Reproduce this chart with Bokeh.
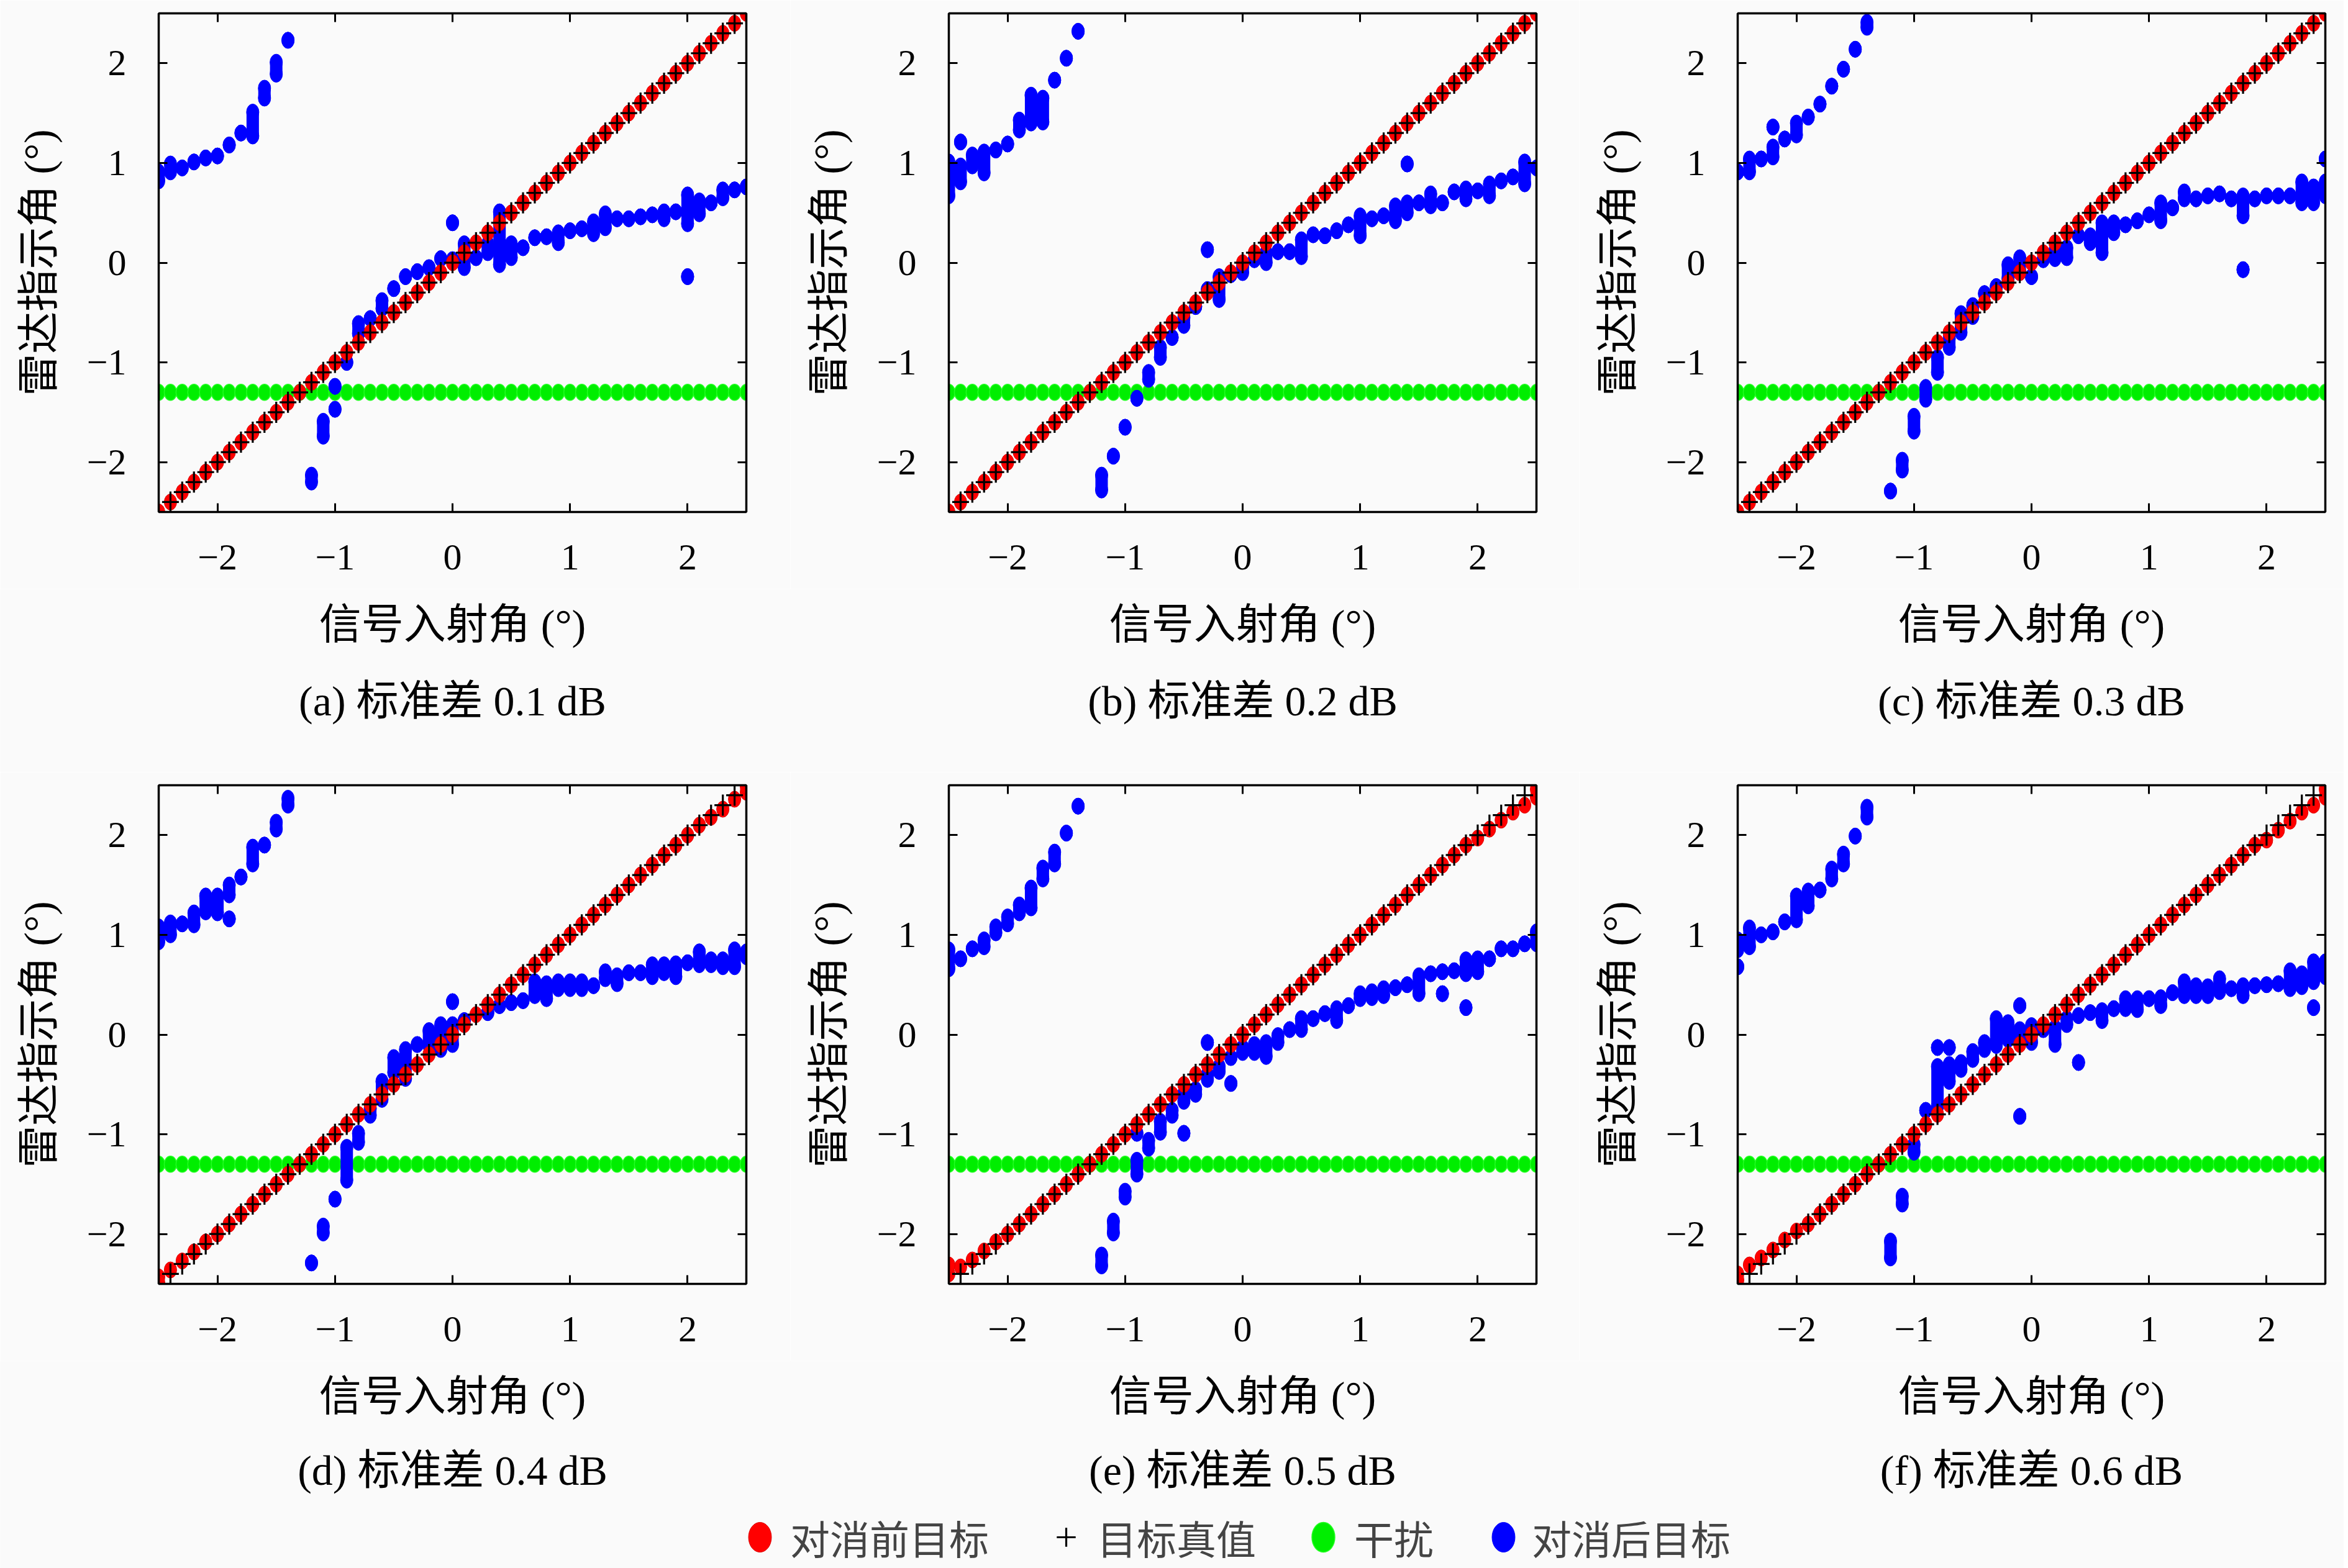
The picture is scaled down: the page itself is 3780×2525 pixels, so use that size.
import math
from bokeh.plotting import figure
from bokeh.layouts import row, column
from bokeh.models import (ColumnDataSource, FixedTicker, LinearAxis, Range1d,
                          Label, Legend, LegendItem)
from bokeh.embed import file_html
from bokeh.resources import INLINE

# ---------------- data ----------------
angles = [-2.5, -2.4, -2.3, -2.2, -2.1, -2.0, -1.9, -1.8, -1.7, -1.6, -1.5, -1.4, -1.3,
          -1.2, -1.1, -1.0, -0.9, -0.8, -0.7, -0.6, -0.5, -0.4, -0.3, -0.2, -0.1, 0.0,
          0.1, 0.2, 0.3, 0.4, 0.5, 0.6, 0.7, 0.8, 0.9, 1.0, 1.1, 1.2, 1.3, 1.4, 1.5,
          1.6, 1.7, 1.8, 1.9, 2.0, 2.1, 2.2, 2.3, 2.4, 2.5]
true_angle = [-2.5, -2.4, -2.3, -2.2, -2.1, -2.0, -1.9, -1.8, -1.7, -1.6, -1.5, -1.4, -1.3,
              -1.2, -1.1, -1.0, -0.9, -0.8, -0.7, -0.6, -0.5, -0.4, -0.3, -0.2, -0.1, 0.0,
              0.1, 0.2, 0.3, 0.4, 0.5, 0.6, 0.7, 0.8, 0.9, 1.0, 1.1, 1.2, 1.3, 1.4, 1.5,
              1.6, 1.7, 1.8, 1.9, 2.0, 2.1, 2.2, 2.3, 2.4, 2.5]
jammer_angle = [-1.3] * 51

red_abc = [-2.5, -2.4, -2.3, -2.2, -2.1, -2.0, -1.9, -1.8, -1.7, -1.6, -1.5, -1.4, -1.3,
           -1.2, -1.1, -1.0, -0.9, -0.8, -0.7, -0.6, -0.5, -0.4, -0.3, -0.2, -0.1, 0.0,
           0.1, 0.2, 0.3, 0.4, 0.5, 0.6, 0.7, 0.8, 0.9, 1.0, 1.1, 1.2, 1.3, 1.4, 1.5,
           1.6, 1.7, 1.8, 1.9, 2.0, 2.1, 2.2, 2.3, 2.4, 2.5]
red_d = [-2.43, -2.36, -2.27, -2.18, -2.08, -2.0, -1.9, -1.8, -1.7, -1.6, -1.5, -1.4, -1.3,
         -1.2, -1.1, -1.0, -0.9, -0.8, -0.7, -0.6, -0.5, -0.4, -0.3, -0.2, -0.1, 0.0,
         0.1, 0.2, 0.3, 0.4, 0.5, 0.6, 0.7, 0.8, 0.9, 1.0, 1.1, 1.2, 1.3, 1.4, 1.5,
         1.6, 1.7, 1.8, 1.9, 2.0, 2.1, 2.18, 2.26, 2.36, 2.43]
red_e = [-2.40, -2.33, -2.26, -2.17, -2.08, -2.0, -1.9, -1.8, -1.7, -1.6, -1.5, -1.4, -1.3,
         -1.2, -1.1, -1.0, -0.9, -0.8, -0.7, -0.6, -0.5, -0.4, -0.3, -0.2, -0.1, 0.0,
         0.1, 0.2, 0.3, 0.4, 0.5, 0.6, 0.7, 0.8, 0.9, 1.0, 1.1, 1.2, 1.3, 1.4, 1.5,
         1.6, 1.7, 1.8, 1.9, 1.97, 2.06, 2.15, 2.23, 2.30, 2.38]
red_f = [-2.40, -2.31, -2.24, -2.16, -2.06, -1.97, -1.9, -1.8, -1.7, -1.6, -1.5, -1.4, -1.3,
         -1.2, -1.1, -1.0, -0.9, -0.8, -0.7, -0.6, -0.5, -0.4, -0.3, -0.2, -0.1, 0.0,
         0.1, 0.2, 0.3, 0.4, 0.5, 0.6, 0.7, 0.8, 0.9, 1.0, 1.1, 1.2, 1.3, 1.4, 1.5,
         1.6, 1.7, 1.8, 1.9, 1.95, 2.05, 2.14, 2.23, 2.30, 2.38]
# extra trials of the pre-cancellation target (angle, value)
red_extra_d = [(-2.5, -2.49), (2.5, 2.49)]
red_extra_e = [(-2.5, -2.31), (2.5, 2.46)]
red_extra_f = [(-2.5, -2.46), (2.5, 2.46)]

# after-cancellation target: (angle, lowest trial, highest trial)
blue_a = [(-2.5, 0.82, 0.91), (-2.4, 0.91, 0.99), (-2.3, 0.95, 0.95), (-2.2, 1.01, 1.01),
          (-2.1, 1.05, 1.05), (-2.0, 1.07, 1.07), (-1.9, 1.18, 1.18), (-1.8, 1.30, 1.30),
          (-1.7, 1.27, 1.51), (-1.6, 1.65, 1.75), (-1.5, 1.89, 2.01), (-1.4, 2.23, 2.23),
          (-1.2, -2.20, -2.13), (-1.1, -1.74, -1.59), (-1.0, -1.47, -1.47), (-1.0, -1.24, -1.24),
          (-0.9, -1.00, -1.00), (-0.8, -0.71, -0.61), (-0.7, -0.56, -0.56), (-0.6, -0.46, -0.38),
          (-0.5, -0.26, -0.26), (-0.4, -0.14, -0.14), (-0.3, -0.09, -0.09), (-0.2, -0.05, -0.05),
          (-0.1, 0.04, 0.04), (0.0, 0.40, 0.40), (0.0, 0.03, 0.03), (0.1, -0.05, 0.19),
          (0.2, 0.05, 0.05), (0.3, 0.10, 0.19), (0.4, -0.02, 0.51), (0.5, 0.05, 0.19),
          (0.6, 0.15, 0.15), (0.7, 0.25, 0.25), (0.8, 0.26, 0.26), (0.9, 0.20, 0.30),
          (1.0, 0.32, 0.32), (1.1, 0.34, 0.34), (1.2, 0.29, 0.41), (1.3, 0.35, 0.49),
          (1.4, 0.44, 0.44), (1.5, 0.44, 0.44), (1.6, 0.46, 0.46), (1.7, 0.48, 0.48),
          (1.8, 0.44, 0.51), (1.9, 0.51, 0.51), (2.0, 0.39, 0.68), (2.0, -0.14, -0.14),
          (2.1, 0.49, 0.62), (2.2, 0.60, 0.60), (2.3, 0.65, 0.73), (2.4, 0.73, 0.73),
          (2.5, 0.76, 0.76)]
blue_b = [(-2.5, 0.67, 1.01), (-2.4, 1.21, 1.21), (-2.4, 0.81, 0.97), (-2.3, 0.97, 1.08),
          (-2.2, 0.90, 1.11), (-2.1, 1.13, 1.13), (-2.0, 1.19, 1.19), (-1.9, 1.33, 1.43),
          (-1.8, 1.40, 1.68), (-1.7, 1.41, 1.65), (-1.6, 1.83, 1.83), (-1.5, 2.05, 2.05),
          (-1.4, 2.32, 2.32), (-1.2, -2.28, -2.13), (-1.1, -1.94, -1.94), (-1.0, -1.65, -1.65),
          (-0.9, -1.36, -1.36), (-0.8, -1.17, -1.10), (-0.7, -0.95, -0.85), (-0.6, -0.75, -0.75),
          (-0.5, -0.63, -0.55), (-0.4, -0.44, -0.44), (-0.3, 0.13, 0.13), (-0.3, -0.27, -0.27),
          (-0.2, -0.37, -0.14), (-0.1, -0.12, -0.12), (0.0, -0.10, -0.04), (0.1, 0.03, 0.03),
          (0.2, 0.00, 0.10), (0.3, 0.11, 0.11), (0.4, 0.11, 0.11), (0.5, 0.06, 0.23),
          (0.6, 0.28, 0.28), (0.7, 0.27, 0.27), (0.8, 0.32, 0.32), (0.9, 0.38, 0.38),
          (1.0, 0.27, 0.47), (1.1, 0.44, 0.44), (1.2, 0.47, 0.47), (1.3, 0.42, 0.57),
          (1.4, 0.99, 0.99), (1.4, 0.50, 0.60), (1.5, 0.60, 0.60), (1.6, 0.57, 0.69),
          (1.7, 0.60, 0.60), (1.8, 0.71, 0.71), (1.9, 0.64, 0.74), (2.0, 0.72, 0.72),
          (2.1, 0.67, 0.79), (2.2, 0.82, 0.82), (2.3, 0.86, 0.86), (2.4, 0.79, 1.01),
          (2.5, 0.95, 0.95)]
blue_c = [(-2.5, 0.91, 0.91), (-2.4, 0.91, 1.04), (-2.3, 1.04, 1.04), (-2.2, 1.36, 1.36),
          (-2.2, 1.06, 1.16), (-2.1, 1.24, 1.24), (-2.0, 1.28, 1.40), (-1.9, 1.46, 1.46),
          (-1.8, 1.59, 1.59), (-1.7, 1.77, 1.77), (-1.6, 1.94, 1.94), (-1.5, 2.14, 2.14),
          (-1.4, 2.36, 2.41), (-1.2, -2.29, -2.29), (-1.1, -2.08, -1.98), (-1.0, -1.69, -1.54),
          (-0.9, -1.37, -1.25), (-0.8, -1.10, -0.95), (-0.7, -0.85, -0.76), (-0.6, -0.70, -0.51),
          (-0.5, -0.54, -0.43), (-0.4, -0.31, -0.31), (-0.3, -0.24, -0.24), (-0.2, -0.16, -0.02),
          (-0.1, -0.10, 0.05), (0.0, -0.14, -0.14), (0.1, 0.03, 0.03), (0.2, 0.04, 0.12),
          (0.3, 0.05, 0.15), (0.4, 0.27, 0.27), (0.5, 0.20, 0.27), (0.6, 0.10, 0.40),
          (0.7, 0.30, 0.40), (0.8, 0.38, 0.38), (0.9, 0.42, 0.42), (1.0, 0.48, 0.48),
          (1.1, 0.42, 0.60), (1.2, 0.55, 0.55), (1.3, 0.64, 0.71), (1.4, 0.64, 0.64),
          (1.5, 0.67, 0.67), (1.6, 0.69, 0.69), (1.7, 0.64, 0.64), (1.8, 0.47, 0.67),
          (1.8, -0.07, -0.07), (1.9, 0.64, 0.64), (2.0, 0.67, 0.67), (2.1, 0.67, 0.67),
          (2.2, 0.67, 0.67), (2.3, 0.60, 0.81), (2.4, 0.60, 0.76), (2.5, 1.04, 1.04),
          (2.5, 0.67, 0.81)]
blue_d = [(-2.5, 0.93, 1.08), (-2.4, 1.00, 1.12), (-2.3, 1.11, 1.11), (-2.2, 1.10, 1.22),
          (-2.1, 1.23, 1.39), (-2.0, 1.22, 1.39), (-1.9, 1.40, 1.50), (-1.9, 1.16, 1.16),
          (-1.8, 1.58, 1.58), (-1.7, 1.71, 1.88), (-1.6, 1.90, 1.90), (-1.5, 2.06, 2.13),
          (-1.4, 2.30, 2.37), (-1.2, -2.29, -2.29), (-1.1, -1.99, -1.92), (-1.0, -1.65, -1.65),
          (-0.9, -1.46, -1.13), (-0.8, -1.08, -0.99), (-0.7, -0.81, -0.74), (-0.6, -0.65, -0.47),
          (-0.5, -0.38, -0.23), (-0.4, -0.44, -0.15), (-0.3, -0.10, -0.10), (-0.2, -0.11, 0.04),
          (-0.1, -0.15, 0.10), (0.0, 0.33, 0.33), (0.0, -0.10, 0.10), (0.1, 0.14, 0.14),
          (0.3, 0.22, 0.22), (0.4, 0.29, 0.29), (0.5, 0.32, 0.32), (0.6, 0.34, 0.34),
          (0.7, 0.39, 0.53), (0.8, 0.36, 0.51), (0.9, 0.46, 0.53), (1.0, 0.46, 0.53),
          (1.1, 0.46, 0.53), (1.2, 0.49, 0.49), (1.3, 0.56, 0.63), (1.4, 0.51, 0.59),
          (1.5, 0.62, 0.62), (1.6, 0.62, 0.62), (1.7, 0.58, 0.70), (1.8, 0.62, 0.70),
          (1.9, 0.58, 0.71), (2.0, 0.72, 0.72), (2.1, 0.70, 0.83), (2.2, 0.70, 0.75),
          (2.3, 0.68, 0.75), (2.4, 0.68, 0.85), (2.5, 0.78, 0.83)]
blue_e = [(-2.5, 0.66, 0.85), (-2.4, 0.76, 0.76), (-2.3, 0.86, 0.86), (-2.2, 0.88, 0.95),
          (-2.1, 1.02, 1.08), (-2.0, 1.11, 1.18), (-1.9, 1.22, 1.30), (-1.8, 1.27, 1.47),
          (-1.7, 1.56, 1.67), (-1.6, 1.71, 1.83), (-1.5, 2.02, 2.02), (-1.4, 2.29, 2.29),
          (-1.2, -2.32, -2.21), (-1.1, -1.99, -1.87), (-1.0, -1.63, -1.57), (-0.9, -1.40, -1.26),
          (-0.9, -0.99, -0.99), (-0.8, -1.14, -1.06), (-0.7, -0.98, -0.87), (-0.6, -0.81, -0.76),
          (-0.5, -0.67, -0.59), (-0.5, -0.99, -0.99), (-0.4, -0.60, -0.55), (-0.3, -0.08, -0.08),
          (-0.3, -0.45, -0.40), (-0.2, -0.37, -0.32), (-0.1, -0.23, -0.23), (-0.1, -0.49, -0.49),
          (0.0, -0.18, -0.13), (0.1, -0.18, -0.10), (0.2, -0.22, -0.08), (0.3, -0.08, -0.01),
          (0.4, 0.05, 0.05), (0.5, 0.05, 0.16), (0.6, 0.16, 0.16), (0.7, 0.21, 0.21),
          (0.8, 0.14, 0.26), (0.9, 0.29, 0.29), (1.0, 0.36, 0.41), (1.1, 0.37, 0.43),
          (1.2, 0.39, 0.46), (1.3, 0.47, 0.47), (1.4, 0.50, 0.50), (1.5, 0.41, 0.59),
          (1.6, 0.61, 0.61), (1.7, 0.63, 0.63), (1.7, 0.41, 0.41), (1.8, 0.64, 0.64),
          (1.9, 0.61, 0.75), (1.9, 0.27, 0.27), (2.0, 0.63, 0.76), (2.1, 0.76, 0.76),
          (2.2, 0.86, 0.86), (2.3, 0.86, 0.86), (2.4, 0.91, 0.91), (2.5, 0.91, 1.03)]
blue_f = [(-2.5, 0.85, 0.95), (-2.5, 0.68, 0.68), (-2.4, 0.88, 1.07), (-2.3, 1.00, 1.00),
          (-2.2, 1.03, 1.03), (-2.1, 1.13, 1.13), (-2.0, 1.15, 1.39), (-1.9, 1.29, 1.44),
          (-1.8, 1.45, 1.45), (-1.7, 1.56, 1.66), (-1.6, 1.71, 1.81), (-1.5, 1.99, 1.99),
          (-1.4, 2.18, 2.28), (-1.2, -2.24, -2.07), (-1.1, -1.70, -1.62), (-1.0, -1.18, -1.10),
          (-0.9, -0.76, -0.76), (-0.8, -0.13, -0.13), (-0.8, -0.72, -0.32), (-0.7, -0.13, -0.13),
          (-0.7, -0.47, -0.30), (-0.6, -0.35, -0.28), (-0.5, -0.25, -0.17), (-0.4, -0.15, -0.08),
          (-0.3, -0.11, 0.16), (-0.2, -0.05, 0.12), (-0.1, 0.29, 0.29), (-0.1, -0.05, 0.05),
          (-0.1, -0.82, -0.82), (0.0, -0.08, 0.09), (0.1, 0.05, 0.05), (0.2, -0.10, 0.07),
          (0.3, 0.10, 0.16), (0.4, 0.19, 0.19), (0.4, -0.28, -0.28), (0.5, 0.22, 0.22),
          (0.6, 0.14, 0.24), (0.7, 0.26, 0.26), (0.8, 0.26, 0.36), (0.9, 0.25, 0.36),
          (1.0, 0.36, 0.36), (1.1, 0.29, 0.37), (1.2, 0.42, 0.42), (1.3, 0.39, 0.53),
          (1.4, 0.39, 0.49), (1.5, 0.39, 0.48), (1.6, 0.43, 0.56), (1.7, 0.46, 0.46),
          (1.8, 0.39, 0.49), (1.9, 0.49, 0.49), (2.0, 0.50, 0.50), (2.1, 0.51, 0.51),
          (2.2, 0.46, 0.64), (2.3, 0.48, 0.61), (2.4, 0.53, 0.73), (2.4, 0.27, 0.27),
          (2.5, 0.58, 0.73)]

captions = ["(a) 标准差 0.1 dB", "(b) 标准差 0.2 dB", "(c) 标准差 0.3 dB",
            "(d) 标准差 0.4 dB", "(e) 标准差 0.5 dB", "(f) 标准差 0.6 dB"]
x_label = "信号入射角 (°)"
y_label = "雷达指示角 (°)"
legend_labels = ["对消前目标", "目标真值", "干扰", "对消后目标"]
tick_vals = [-2, -1, 0, 1, 2]
tick_text = ["−2", "−1", "0", "1", "2"]

# ---------------- style / layout ----------------
FONT = "'Liberation Serif', 'Noto Sans CJK SC'"
BG = "#fafafa"
RED, GREEN, BLUE = "#ff0000", "#00ee00", "#0000ff"
FW, FH = 946, 803
MW, MH = 20, 26
LB, TB, BB = 255, 21, 124
RBS = [71, 69, 30]
COL_STARTS = [0, 1272, 2542]
TOTAL_W = 3773
ROW_H = TB + FH + BB
STRIP1_H = 1243 - ROW_H
STRIP2_H = 2525 - 1243 - ROW_H
OFF = 100  # strip ranges start here, away from the data


def style_axis(ax, labels):
    ax.ticker = FixedTicker(ticks=tick_vals)
    ax.minor_tick_line_color = None
    ax.major_tick_in = 14
    ax.major_tick_out = 0
    ax.major_tick_line_width = 3
    ax.major_tick_line_color = "black"
    ax.axis_line_width = 3.5
    ax.axis_line_color = "black"
    if labels:
        ax.major_label_overrides = {v: t for v, t in zip(tick_vals, tick_text)}
        ax.major_label_text_font = FONT
        ax.major_label_text_font_size = "60px"
        ax.major_label_text_color = "black"
        ax.axis_label_text_font = FONT
        ax.axis_label_text_font_size = "68px"
        ax.axis_label_text_font_style = "normal"
        ax.axis_label_text_color = "black"
    else:
        ax.major_label_overrides = {v: "" for v in tick_vals}
        ax.major_label_text_font_size = "1px"
        ax.major_label_standoff = 0


def sources(red_y, red_extra, blue):
    rx = list(angles) + [a for a, _ in red_extra]
    ry = list(red_y) + [v for _, v in red_extra]
    red_src = ColumnDataSource(dict(x=rx, y=ry))
    true_src = ColumnDataSource(dict(x=angles, y=true_angle))
    jam_src = ColumnDataSource(dict(x=angles, y=jammer_angle))
    blue_src = ColumnDataSource(dict(x=[b[0] for b in blue], lo=[b[1] for b in blue],
                                     hi=[b[2] for b in blue]))
    return red_src, true_src, jam_src, blue_src


def draw(p, srcs):
    red_src, true_src, jam_src, blue_src = srcs
    g = p.ellipse(x="x", y="y", width=MW, height=MH, width_units="screen", height_units="screen",
                  source=jam_src, fill_color=GREEN, line_color="#22ff22", line_width=1.5)
    p.segment(x0="x", y0="lo", x1="x", y1="hi", source=blue_src, line_width=MW,
              line_color=BLUE, line_cap="butt")
    b = p.ellipse(x="x", y="lo", width=MW, height=MH, width_units="screen", height_units="screen",
                  source=blue_src, fill_color=BLUE, line_color=BLUE, line_width=1)
    p.ellipse(x="x", y="hi", width=MW, height=MH, width_units="screen", height_units="screen",
              source=blue_src, fill_color=BLUE, line_color=BLUE, line_width=1)
    r = p.ellipse(x="x", y="y", width=MW, height=MH, width_units="screen", height_units="screen",
                  source=red_src, fill_color=RED, line_color="#dd0000", line_width=1)
    # '+' of the true value: a 27 px wide, 34 px tall cross
    p.scatter(x="x", y="y", source=true_src, marker="dash", size=27,
              line_color="black", line_width=3.2)
    p.scatter(x="x", y="y", source=true_src, marker="dash", size=34, angle=math.pi / 2,
              line_color="black", line_width=3.2)
    return r, g, b


def make_panel(srcs, rb):
    p = figure(frame_width=FW, frame_height=FH, x_range=Range1d(-2.5, 2.5),
               y_range=Range1d(-2.5, 2.5), output_backend="svg", toolbar_location=None,
               min_border_left=LB, min_border_right=rb, min_border_top=TB,
               min_border_bottom=BB, background_fill_color=BG, border_fill_color=BG)
    p.grid.visible = False
    p.outline_line_color = "black"
    p.outline_line_width = 3
    style_axis(p.xaxis[0], True)
    style_axis(p.yaxis[0], True)
    p.yaxis[0].axis_label = y_label
    p.xaxis[0].major_label_standoff = 53
    p.yaxis[0].major_label_standoff = 52
    p.yaxis[0].axis_label_standoff = 36
    top = LinearAxis()
    style_axis(top, False)
    p.add_layout(top, "above")
    right = LinearAxis()
    style_axis(right, False)
    p.add_layout(right, "right")
    draw(p, srcs)
    return p


def strip(height):
    s = figure(width=TOTAL_W, height=height, x_range=Range1d(OFF, OFF + TOTAL_W),
               y_range=Range1d(OFF, OFF + height), x_axis_type=None, y_axis_type=None,
               output_backend="svg", toolbar_location=None, min_border=0,
               background_fill_color=BG, border_fill_color=BG)
    s.grid.visible = False
    s.outline_line_color = None
    return s


def add_texts(s, texts, from_top):
    for start, txt in zip(COL_STARTS, texts):
        s.add_layout(Label(x=OFF + start + LB + FW / 2, y=OFF + s.height - from_top, text=txt,
                           text_align="center", text_baseline="middle", text_font=FONT,
                           text_font_size="68px", text_color="black"))


panel_data = [(red_abc, [], blue_a), (red_abc, [], blue_b), (red_abc, [], blue_c),
              (red_d, red_extra_d, blue_d), (red_e, red_extra_e, blue_e),
              (red_f, red_extra_f, blue_f)]
all_srcs = [sources(*d) for d in panel_data]
figs = [make_panel(srcs, RBS[i % 3]) for i, srcs in enumerate(all_srcs)]

# strip under row 1: x-axis titles and captions (a)-(c)
s1 = strip(STRIP1_H)
add_texts(s1, [x_label] * 3, 181 - BB)
add_texts(s1, captions[:3], 304 - BB)

# strip under row 2: x-axis titles, captions (d)-(f) and the legend
s2 = strip(STRIP2_H)
add_texts(s2, [x_label] * 3, 181 - BB)
add_texts(s2, captions[3:], 300 - BB)
rr, gg, bbr = draw(s2, all_srcs[5])   # drawn outside the strip's ranges
tt = s2.scatter(x="x", y="y", source=all_srcs[5][1], marker="cross", size=30,
                line_color="black", line_width=3.2)
leg_specs = [(rr, 1193, 60, 19), (tt, 1678, 76, 12), (gg, 2100, 60, 20), (bbr, 2390, 60, 16)]
for (rend, lx, gsize, stand), lab in zip(leg_specs, legend_labels):
    leg = Legend(items=[LegendItem(label=lab, renderers=[rend])],
                 orientation="horizontal", location=(lx, 4), padding=0, margin=0,
                 spacing=0, label_standoff=stand, glyph_width=gsize, glyph_height=gsize,
                 label_text_font=FONT, label_text_font_size="64px",
                 border_line_color=None, background_fill_alpha=0)
    s2.add_layout(leg, "center")

layout = column(row(*figs[:3]), s1, row(*figs[3:]), s2)
open("out.html", "w").write(file_html(layout, INLINE))
